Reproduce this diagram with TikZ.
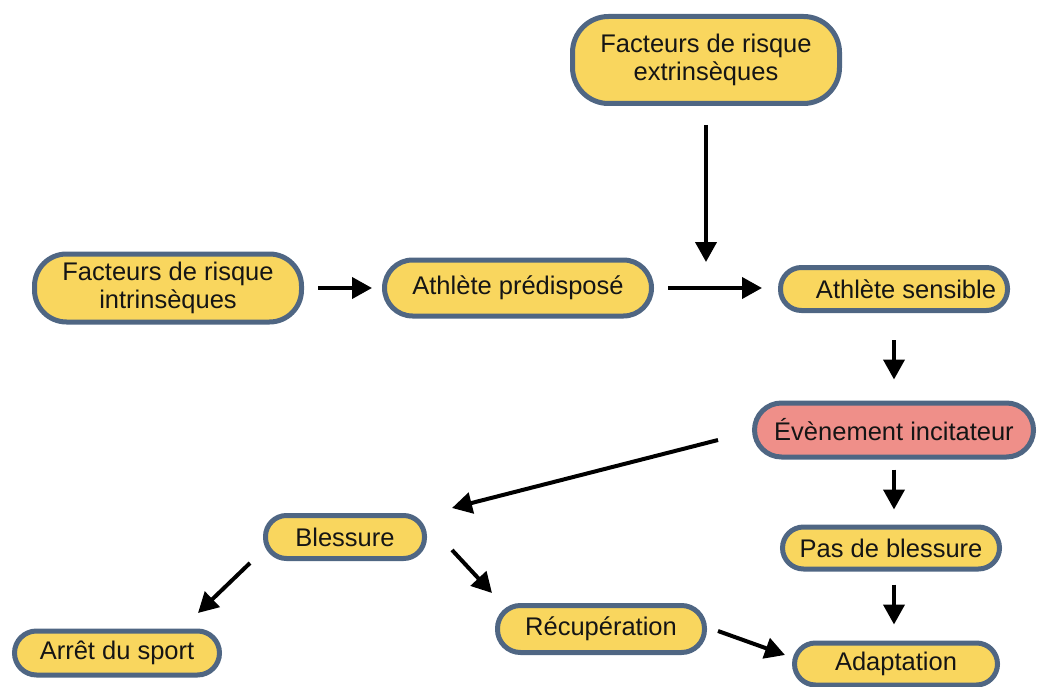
\documentclass[tikz,border=0pt]{standalone}
\usepackage{fontspec}
\setmainfont{Liberation Sans}
\usetikzlibrary{arrows.meta}
\definecolor{boxfill}{HTML}{F9D65E}
\definecolor{boxline}{HTML}{4F6683}
\definecolor{redfill}{HTML}{EF8F89}
\definecolor{txt}{HTML}{151515}
\tikzset{
  box/.style={draw=boxline, fill=boxfill, line width=5pt, inner sep=0pt, align=center,
    text=txt, font=\fontsize{25.5}{28}\selectfont},
  conn/.style={line width=4pt, -{Triangle[length=20pt,width=21pt]}},
}
\begin{document}
\begin{tikzpicture}[x=1pt,y=-1pt]
\useasboundingbox (0,0) rectangle (1038,687);
\node[box, minimum width=267pt, minimum height=87pt, rounded corners=36pt] (ext) at (706,60) {Facteurs de risque\\extrinsèques};
\node[box, minimum width=267pt, minimum height=68pt, rounded corners=32pt] (int) at (168,288) {Facteurs de risque\\intrinsèques};
\node[box, minimum width=267pt, minimum height=56pt, rounded corners=28pt] (pred) at (518,288) {Athlète prédisposé};
\node[box, minimum width=227pt, minimum height=43pt, rounded corners=21pt] (sens) at (894,289) {\hspace{24pt}Athlète sensible};
\node[box, fill=redfill, minimum width=279pt, minimum height=54pt, rounded corners=27pt] (evt) at (894,430) {Évènement incitateur};
\node[box, minimum width=159pt, minimum height=43pt, rounded corners=21pt] (bles) at (345,537) {Blessure};
\node[box, minimum width=217pt, minimum height=42pt, rounded corners=21pt] (pas) at (891,548) {Pas de blessure};
\node[box, minimum width=205pt, minimum height=44pt, rounded corners=22pt] (arret) at (117,653) {Arrêt du sport};
\node[box, minimum width=207pt, minimum height=47pt, rounded corners=23pt] (recup) at (601,629) {Récupération};
\node[box, minimum width=203pt, minimum height=42pt, rounded corners=21pt] (adapt) at (896,664) {Adaptation};

\coordinate (extend) at (706,262);
\coordinate (e1) at (718,440);
\coordinate (b1) at (452,508);
\coordinate (b2) at (250,563);
\coordinate (a1) at (198,613);
\coordinate (b3) at (452,550);
\coordinate (r1) at (492,593);
\coordinate (r2) at (718,631);
\coordinate (ad1) at (785,655);

\draw[conn, shorten <=19pt] (ext.south) -- (extend);
\draw[conn, shorten <=14pt, shorten >=10pt] (int.east) -- (int.east -| pred.west);
\draw[conn, shorten <=14pt, shorten >=16pt] (pred.east) -- (pred.east -| sens.west);
\draw[conn, shorten <=27pt, shorten >=21pt] (sens.south) -- (sens.south |- evt.north);
\draw[conn, shorten <=10pt, shorten >=15pt] (evt.south) -- (evt.south |- pas.north);
\draw[conn, shorten <=13pt, shorten >=16pt] (pas.south -| evt.south) -- (evt.south |- adapt.north);
\draw[conn] (e1) -- (b1);
\draw[conn] (b2) -- (a1);
\draw[conn] (b3) -- (r1);
\draw[conn] (r2) -- (ad1);
\end{tikzpicture}
\end{document}
